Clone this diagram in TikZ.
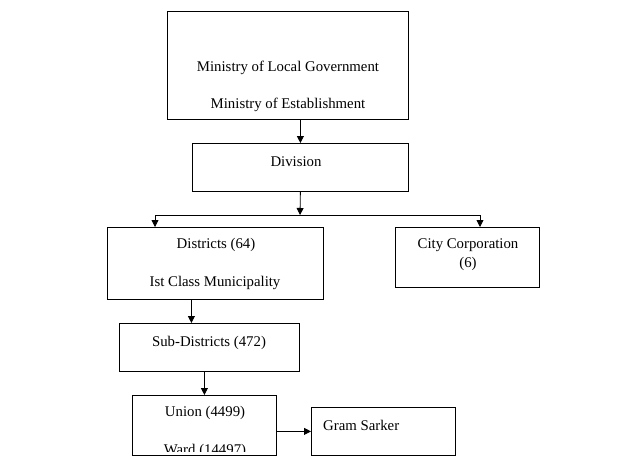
\documentclass[tikz,border=0pt]{standalone}
\usepackage{fontspec}
\setmainfont{Liberation Serif}
\usetikzlibrary{arrows.meta}

\tikzset{
  box/.style={draw, line width=0.8pt, inner sep=0pt, anchor=north west},
  txt/.style={anchor=base, inner sep=0pt, font=\fontsize{14.8}{17}\selectfont},
  link/.style={->, line width=0.8pt}
}

\begin{document}
\begin{tikzpicture}[x=1pt, y=-1pt, >={Triangle[length=7pt,width=7pt]}]
                \useasboundingbox (0,0) rectangle (636,468);

                % Boxes
                \node[box, minimum width=241pt, minimum height=108pt] (min) at (167,11) {};
                \node[box, minimum width=216pt, minimum height=48pt] (div) at (192,143) {};
                \node[box, minimum width=216pt, minimum height=72pt] (dist) at (107,227) {};
                \node[box, minimum width=144pt, minimum height=60pt] (city) at (395,227) {};
                \node[box, minimum width=180pt, minimum height=48pt] (sub) at (119,323) {};
                \node[box, minimum width=144pt, minimum height=60pt] (uni) at (132,395) {};
                \node[box, minimum width=144pt, minimum height=48pt] (gram) at (311,407) {};

                % Texts
                \node[txt] (t1) at (288,72) {Ministry of Local Government};
                \node[txt] (t2) at (288,109) {Ministry of Establishment};
                \node[txt] (t3) at (296,166) {Division};
                \node[txt] (t4) at (216,248) {Districts (64)};
                \node[txt] (t5) at (215,286) {Ist Class Municipality};
                \node[txt] (t6) at (468,248) {City Corporation};
                \node[txt] (t7) at (468,267) {(6)};
                \node[txt] (t8) at (209,346) {Sub-Districts (472)};
                \node[txt] (t9) at (205,416) {Union (4499)};
                \node[txt, anchor=base west] (t11) at (323,430) {Gram Sarker};
                \begin{scope}
                    \clip (uni.north west) rectangle ([yshift=4pt]uni.south east);
                    \node[txt] (t10) at (205,454) {Ward (14497)};
                \end{scope}

                % Fork below the division
                \coordinate (fork) at (300,215);
                \coordinate (forkL) at (155,215);
                \coordinate (forkR) at (480,215);

                % Connectors
                \draw[link] (div.north |- min.south) -- (div.north);
                \draw[link] (div.south) -- (fork);
                \draw[line width=0.8pt] (forkL) -- (forkR);
                \draw[link] (forkL) -- (forkL |- dist.north);
                \draw[link] (forkR) -- (forkR |- city.north);
                \draw[link] ([xshift=-24pt]dist.south) -- ([xshift=-18pt]sub.north);
                \draw[link] (uni.north |- sub.south) -- (uni.north);
                \draw[link] (uni.east |- gram.west) -- (gram.west);
            \end{tikzpicture}
\end{document}
